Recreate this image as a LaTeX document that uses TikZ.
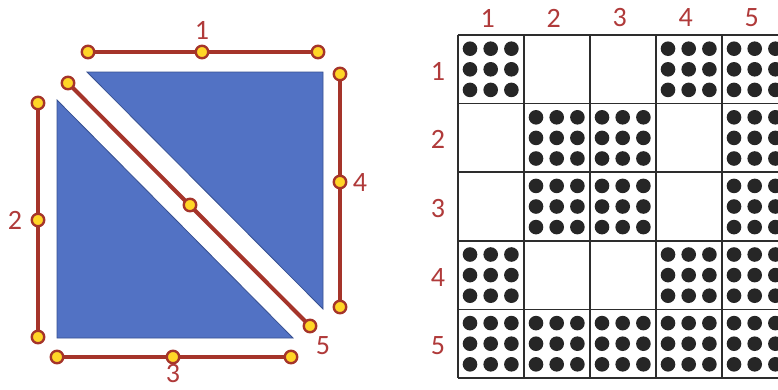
\documentclass[tikz,border=0pt]{standalone}
\usepackage{fontspec}
\setmainfont{Carlito}
\usetikzlibrary{backgrounds}
\definecolor{tri}{RGB}{82,114,196}
\definecolor{triedge}{RGB}{55,80,145}
\definecolor{rod}{RGB}{165,52,42}
\definecolor{pin}{RGB}{255,214,40}
\definecolor{lbl}{RGB}{176,58,58}
\definecolor{gridc}{RGB}{45,45,45}
\definecolor{dotc}{RGB}{38,38,38}
\tikzset{
  piece/.style={fill=tri,draw=triedge,line width=0.8pt,line join=miter},
  rodline/.style={draw=rod,line width=4pt},
  joint/.style={circle,fill=pin,draw=rod,line width=2.4pt,minimum size=12.5pt,inner sep=0pt},
  numlbl/.style={text=lbl,font=\fontsize{28}{30}\selectfont,inner sep=0pt},
  gridnum/.style={text=lbl,font=\fontsize{28}{30}\selectfont,inner sep=0pt},
  gridline/.style={draw=gridc,line width=1.6pt},
  dot/.style={fill=dotc}
}
\begin{document}
\begin{tikzpicture}[x=1pt,y=-1pt]
\useasboundingbox (0,0) rectangle (778,389);
\clip (0,0) rectangle (778,389);
% triangles
\begin{scope}[on background layer]
\fill[white] (0,0) rectangle (778,389);
\path[piece] (87,72) -- (323,72) -- (323,309) -- cycle;
\path[piece] (57,100) -- (57,338) -- (293,338) -- cycle;
\end{scope}
% joints
\node[joint] (t1) at (88,52) {};
\node[joint] (t2) at (202,52) {};
\node[joint] (t3) at (318,52) {};
\node[joint] (l1) at (38,103) {};
\node[joint] (l2) at (38,220) {};
\node[joint] (l3) at (38,337) {};
\node[joint] (b1) at (57,357) {};
\node[joint] (b2) at (173,357) {};
\node[joint] (b3) at (291,357) {};
\node[joint] (r1) at (340,74) {};
\node[joint] (r2) at (340,182) {};
\node[joint] (r3) at (340,307) {};
\node[joint] (d1) at (68,83) {};
\node[joint] (d2) at (190,205) {};
\node[joint] (d3) at (310,326) {};
\begin{scope}[on background layer]
\draw[rodline] (t1.center) -- (t3.center);
\draw[rodline] (l1.center) -- (l3.center);
\draw[rodline] (b1.center) -- (b3.center);
\draw[rodline] (r1.center) -- (r3.center);
\draw[rodline] (d1.center) -- (d3.center);
\end{scope}
\node[numlbl] (n1) at (202,30) {1};
\node[numlbl] (n2) at (15,220) {2};
\node[numlbl] (n3) at (173,374) {3};
\node[numlbl] (n4) at (360,183) {4};
\node[numlbl] (n5) at (323,346) {5};
% grid
\def\gx{457.7}\def\gw{66}\def\gy{35}\def\gh{68.6}
\foreach \r/\cols in {1/{1,4,5},2/{2,3,5},3/{2,3,5},4/{1,4,5},5/{1,2,3,4,5}}{
  \foreach \c in \cols {
    \foreach \i in {-1,0,1}{
      \foreach \j in {-1,0,1}{
        \fill[dot] ({\gx+(\c-0.5)*\gw+\i*20.7},{\gy+(\r-0.5)*\gh+\j*20.6}) circle (7.3);
      }
    }
  }
}
\foreach \k in {0,...,5}{
  \draw[gridline] ({\gx+\k*\gw},\gy) -- ({\gx+\k*\gw},{\gy+5*\gh});
  \draw[gridline] (\gx,{\gy+\k*\gh}) -- ({\gx+5*\gw},{\gy+\k*\gh});
}
\foreach \k in {1,...,5}{
  \node[gridnum] (col\k) at ({\gx+(\k-0.5)*\gw-3},18) {\k};
  \node[gridnum] (row\k) at (438,{\gy+(\k-0.5)*\gh+2}) {\k};
}
\end{tikzpicture}
\end{document}
